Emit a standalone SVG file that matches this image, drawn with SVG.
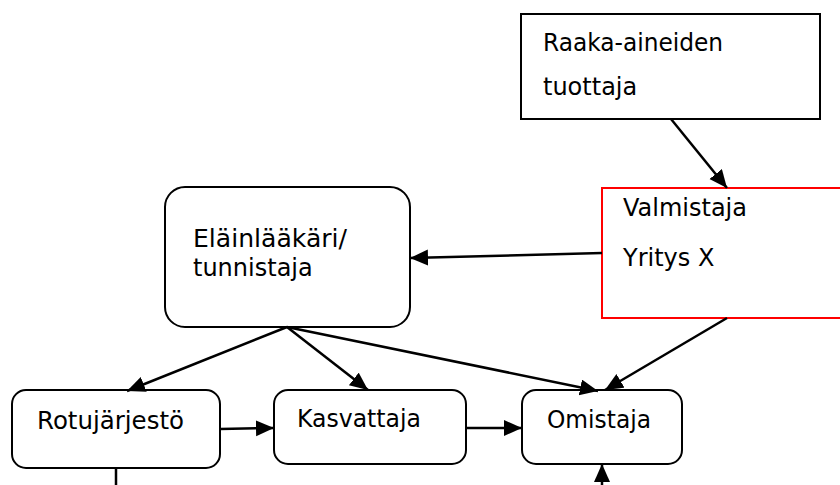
<svg xmlns="http://www.w3.org/2000/svg" width="840" height="485" viewBox="0 0 840 485">
  <style>
    .box { fill: #ffffff; stroke: #000000; stroke-width: 2; }
    .red { fill: #ffffff; stroke: #ff0000; stroke-width: 2; }
    .lbl { font-family: "DejaVu Sans", sans-serif; font-size: 24px; fill: #000000; }
    .edge { stroke: #000000; stroke-width: 2.5; fill: none; }
  </style>
  <defs>
    <marker id="arr" markerUnits="userSpaceOnUse" markerWidth="20" markerHeight="18" refX="18" refY="8" orient="auto">
      <path d="M0,0 L18,8 L0,16 z" fill="#000000"/>
    </marker>
  </defs>
  <rect width="840" height="485" fill="#ffffff"/>

  <g id="raaka">
    <rect class="box" x="521" y="14" width="299" height="105"/>
    <text class="lbl" x="543" y="51" textLength="180" lengthAdjust="spacingAndGlyphs">Raaka-aineiden</text>
    <text class="lbl" x="543" y="95">tuottaja</text>
  </g>

  <g id="valmistaja">
    <rect class="red" x="602" y="188" width="250" height="130"/>
    <text class="lbl" x="623" y="216">Valmistaja</text>
    <text class="lbl" x="623" y="266">Yritys X</text>
  </g>

  <g id="elainlaakari">
    <rect class="box" x="165" y="187" width="245" height="140" rx="20" ry="20"/>
    <text class="lbl" x="193" y="247" textLength="154" lengthAdjust="spacingAndGlyphs">Eläinlääkäri/</text>
    <text class="lbl" x="193" y="276">tunnistaja</text>
  </g>

  <g id="rotujarjesto">
    <rect class="box" x="12" y="390" width="208" height="78" rx="14" ry="14"/>
    <text class="lbl" x="37" y="429" textLength="147" lengthAdjust="spacingAndGlyphs">Rotujärjestö</text>
  </g>

  <g id="kasvattaja">
    <rect class="box" x="274" y="390" width="192" height="74" rx="14" ry="14"/>
    <text class="lbl" x="297" y="427" textLength="124" lengthAdjust="spacingAndGlyphs">Kasvattaja</text>
  </g>

  <g id="omistaja">
    <rect class="box" x="522" y="390" width="160" height="74" rx="14" ry="14"/>
    <text class="lbl" x="547" y="428" textLength="104" lengthAdjust="spacingAndGlyphs">Omistaja</text>
  </g>

  <g id="connectors">
    <line class="edge" x1="671" y1="119" x2="727" y2="188" marker-end="url(#arr)"/>
    <line class="edge" x1="602" y1="253" x2="410" y2="258" marker-end="url(#arr)"/>
    <line class="edge" x1="287" y1="327" x2="127" y2="391" marker-end="url(#arr)"/>
    <line class="edge" x1="287" y1="327" x2="368" y2="390" marker-end="url(#arr)"/>
    <line class="edge" x1="287" y1="327" x2="598" y2="391" marker-end="url(#arr)"/>
    <line class="edge" x1="727" y1="318" x2="605" y2="390" marker-end="url(#arr)"/>
    <line class="edge" x1="220" y1="429" x2="274" y2="428" marker-end="url(#arr)"/>
    <line class="edge" x1="466" y1="428" x2="522" y2="428" marker-end="url(#arr)"/>
    <line class="edge" x1="116" y1="468" x2="116" y2="490"/>
    <line class="edge" x1="602" y1="492" x2="602" y2="464" marker-end="url(#arr)"/>
  </g>
</svg>
